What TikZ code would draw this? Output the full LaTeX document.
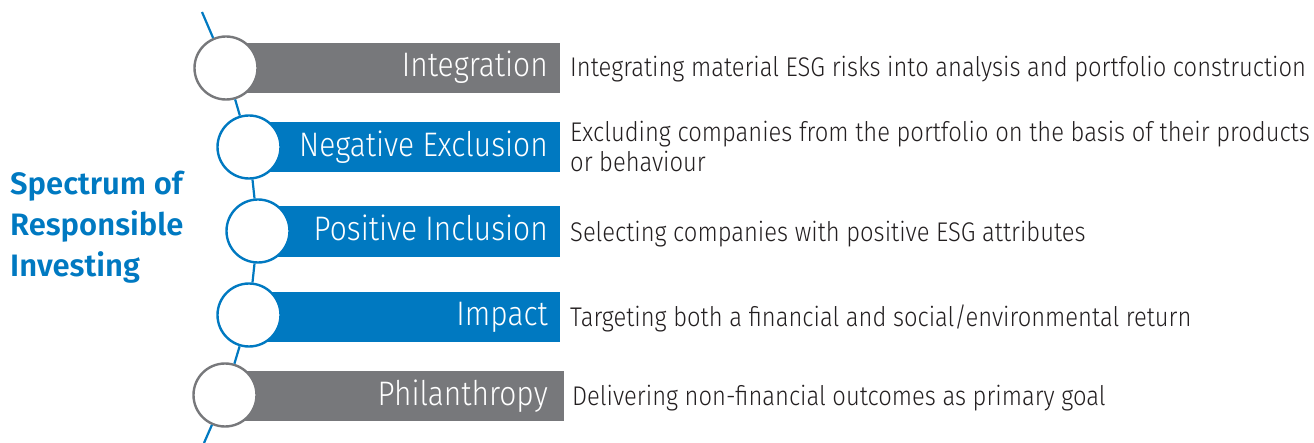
\documentclass[tikz,border=0pt]{standalone}
\usepackage{fontspec}
\setmainfont{Fira Sans}[UprightFont=* Light, FakeStretch=0.88]
\newfontfamily\titlefont{Fira Sans}[UprightFont=* SemiBold]
\definecolor{bmoblue}{HTML}{0079C1}
\definecolor{bmogray}{HTML}{77787B}
\definecolor{desctext}{HTML}{231F20}
\begin{document}
\begin{tikzpicture}[x=1pt,y=-1pt,
  ring/.style={circle,draw=#1,line width=2.4pt,fill=white,minimum size=63pt,inner sep=0pt},
  barlabel/.style={anchor=base east,text=white,font=\fontsize{34}{34}\selectfont,inner sep=0pt},
  desc/.style={anchor=base west,text=desctext,font=\fontsize{27}{30}\selectfont,inner sep=0pt},
  spine/.style={draw=bmoblue,line width=2.2pt}]
\useasboundingbox (0,0) rectangle (1314,443);
% bars
\fill[bmogray] (226,43) rectangle (560,93);
\fill[bmoblue] (249,122) rectangle (560,172);
\fill[bmoblue] (258,206) rectangle (560,257);
\fill[bmoblue] (249,292) rectangle (560,342);
\fill[bmogray] (225,371) rectangle (564,421);
% spine
\coordinate (top) at (202,12);
\coordinate (bot) at (204,443);
\node[ring=bmogray] (c1) at (226,68) {};
\node[ring=bmoblue] (c2) at (249,147) {};
\node[ring=bmoblue] (c3) at (258,231) {};
\node[ring=bmoblue] (c4) at (249,315) {};
\node[ring=bmogray] (c5) at (225,395) {};
\draw[spine] (top) -- (c1);
\draw[spine] (c1) -- (c2);
\draw[spine] (c2) -- (c3);
\draw[spine] (c3) -- (c4);
\draw[spine] (c4) -- (c5);
\draw[spine] (c5) -- (bot);
% bar labels
\node[barlabel] (l1) at (548,77) {Integration};
\node[barlabel] (l2) at (548,157) {Negative Exclusion};
\node[barlabel] (l3) at (548,241) {Positive Inclusion};
\node[barlabel] (l4) at (548,326) {Impact};
\node[barlabel] (l5) at (548,405) {Philanthropy};
% descriptions
\node[desc] (d1) at (570,77) {Integrating material ESG risks into analysis and portfolio construction};
\node[desc] (d2) at (570,142) {\vtop{\baselineskip=30pt\hbox{Excluding companies from the portfolio on the basis of their products}\hbox{or behaviour}}};
\node[desc] (d3) at (570,242) {Selecting companies with positive ESG attributes};
\node[desc] (d4) at (570,327) {Targeting both a financial and social/environmental return};
\node[desc] (d5) at (572,405) {Delivering non-financial outcomes as primary goal};
% title
\node[anchor=base west,text=bmoblue,font=\titlefont\fontsize{31}{41}\selectfont,inner sep=0pt] (title) at (10,195) {\vtop{\baselineskip=41pt\hbox{Spectrum of}\hbox{Responsible}\hbox{Investing}}};
\end{tikzpicture}
\end{document}
